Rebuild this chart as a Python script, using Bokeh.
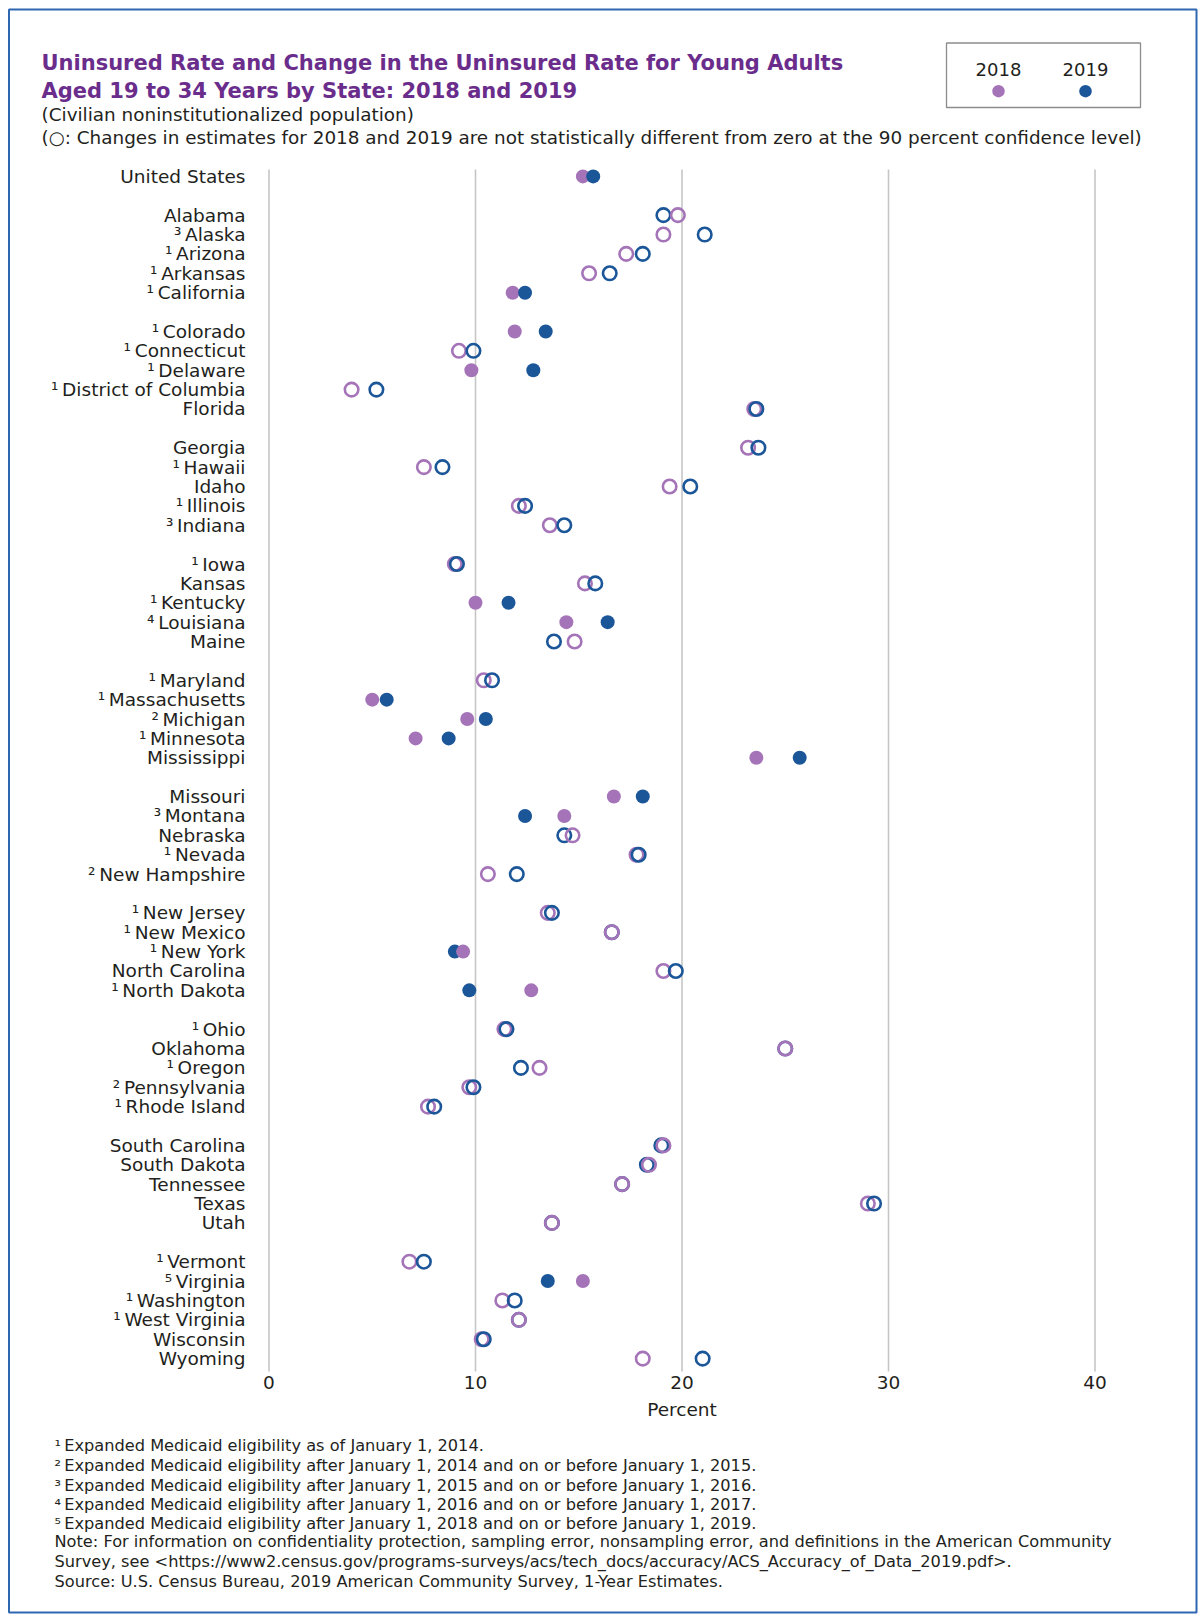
from bokeh.plotting import figure
from bokeh.models import Range1d, Label, BoxAnnotation, Grid
from bokeh.embed import file_html
from bokeh.resources import INLINE
from bokeh.core.properties import value

# ---------------- data ----------------
states = ["United States",
          "Alabama", "Alaska", "Arizona", "Arkansas", "California",
          "Colorado", "Connecticut", "Delaware", "District of Columbia", "Florida",
          "Georgia", "Hawaii", "Idaho", "Illinois", "Indiana",
          "Iowa", "Kansas", "Kentucky", "Louisiana", "Maine",
          "Maryland", "Massachusetts", "Michigan", "Minnesota", "Mississippi",
          "Missouri", "Montana", "Nebraska", "Nevada", "New Hampshire",
          "New Jersey", "New Mexico", "New York", "North Carolina", "North Dakota",
          "Ohio", "Oklahoma", "Oregon", "Pennsylvania", "Rhode Island",
          "South Carolina", "South Dakota", "Tennessee", "Texas", "Utah",
          "Vermont", "Virginia", "Washington", "West Virginia", "Wisconsin", "Wyoming"]

note_numbers = [0,
                0, 3, 1, 1, 1,
                1, 1, 1, 1, 0,
                0, 1, 0, 1, 3,
                1, 0, 1, 4, 0,
                1, 1, 2, 1, 0,
                0, 3, 0, 1, 2,
                1, 1, 1, 0, 1,
                1, 0, 1, 2, 1,
                0, 0, 0, 0, 0,
                1, 5, 1, 1, 0, 0]

rate_2018 = [15.2,
             19.8, 19.1, 17.3, 15.5, 11.8,
             11.9, 9.2, 9.8, 4.0, 23.5,
             23.2, 7.5, 19.4, 12.1, 13.6,
             9.0, 15.3, 10.0, 14.4, 14.8,
             10.4, 5.0, 9.6, 7.1, 23.6,
             16.7, 14.3, 14.7, 17.8, 10.6,
             13.5, 16.6, 9.4, 19.1, 12.7,
             11.4, 25.0, 13.1, 9.7, 7.7,
             19.1, 18.4, 17.1, 29.0, 13.7,
             6.8, 15.2, 11.3, 12.1, 10.3, 18.1]

rate_2019 = [15.7,
             19.1, 21.1, 18.1, 16.5, 12.4,
             13.4, 9.9, 12.8, 5.2, 23.6,
             23.7, 8.4, 20.4, 12.4, 14.3,
             9.1, 15.8, 11.6, 16.4, 13.8,
             10.8, 5.7, 10.5, 8.7, 25.7,
             18.1, 12.4, 14.3, 17.9, 12.0,
             13.7, 16.6, 9.0, 19.7, 9.7,
             11.5, 25.0, 12.2, 9.9, 8.0,
             19.0, 18.3, 17.1, 29.3, 13.7,
             7.5, 13.5, 11.9, 12.1, 10.4, 21.0]

significant = [True,
               False, False, False, False, True,
               True, False, True, False, False,
               False, False, False, False, False,
               False, False, True, True, False,
               False, True, True, True, True,
               True, True, False, False, False,
               False, False, True, False, True,
               False, False, False, False, False,
               False, False, False, False, False,
               False, True, False, False, False, False]

x_ticks = [0, 10, 20, 30, 40]
legend_years = ["2018", "2019"]

footnotes = [
    "\u00b9\u2009Expanded Medicaid eligibility as of January 1, 2014.",
    "\u00b2\u2009Expanded Medicaid eligibility after January 1, 2014 and on or before January 1, 2015.",
    "\u00b3\u2009Expanded Medicaid eligibility after January 1, 2015 and on or before January 1, 2016.",
    "\u2074\u2009Expanded Medicaid eligibility after January 1, 2016 and on or before January 1, 2017.",
    "\u2075\u2009Expanded Medicaid eligibility after January 1, 2018 and on or before January 1, 2019.",
    "Note: For information on confidentiality protection, sampling error, nonsampling error, and definitions in the American Community",
    "Survey, see <https://www2.census.gov/programs-surveys/acs/tech_docs/accuracy/ACS_Accuracy_of_Data_2019.pdf>.",
    "Source: U.S. Census Bureau, 2019 American Community Survey, 1-Year Estimates.",
]

title_lines = ["Uninsured Rate and Change in the Uninsured Rate for Young Adults",
               "Aged 19 to 34 Years by State: 2018 and 2019"]
subtitle_lines = ["(Civilian noninstitutionalized population)",
                  "(\u25cb: Changes in estimates for 2018 and 2019 are not statistically different from zero at the 90 percent confidence level)"]

# ---------------- layout / style ----------------
W, H = 1200, 1620
X0_PX, X_UNIT = 268.5, 20.65        # page x of 0 %, px per percent
Y0_PX, ROW = 175.9, 19.38           # page y of first row, px per row

def dx(px):
    return (px - X0_PX) / X_UNIT

def dy(py):
    return (py - Y0_PX) / ROW

C2018 = "#a574b8"
C2019 = "#1b5699"
TXT = "#231f20"
PURPLE = "#6a2d8c"
FONT = "DejaVu Sans"

sup = {0: "", 1: "\u00b9\u2009", 2: "\u00b2\u2009", 3: "\u00b3\u2009", 4: "\u2074\u2009", 5: "\u2075\u2009"}
labels = [sup[n] + s for n, s in zip(note_numbers, states)]

rows = []
for i in range(len(states)):
    if i == 0:
        rows.append(0)
    else:
        k = i - 1
        g = min(k // 5, 9)
        rows.append(2 + 6 * g + (k - 5 * g))

p = figure(width=W, height=H, title=None,
           x_range=Range1d(dx(0), dx(W)), y_range=Range1d(dy(H), dy(0)),
           x_axis_location=None, y_axis_location=None,
           output_backend="svg", toolbar_location=None, min_border=0)
p.outline_line_color = None
p.background_fill_color = "white"
p.border_fill_color = "white"
for r in list(p.center):
    if isinstance(r, Grid):
        r.visible = False

# outer border
p.add_layout(BoxAnnotation(left=dx(8.5), right=dx(1196), top=dy(9), bottom=dy(1612),
                           fill_color=None, fill_alpha=0, line_color="#2f67b1",
                           line_alpha=1.0, line_width=2))

# grid lines
g_top, g_bot = dy(169), dy(1371)
p.segment(x0=x_ticks, y0=[g_top] * len(x_ticks), x1=x_ticks, y1=[g_bot] * len(x_ticks),
          line_color="#c6c6c6", line_width=1.6)

# x tick labels and axis title
p.text(x=x_ticks, y=[dy(1382)] * len(x_ticks), text=[str(t) for t in x_ticks],
       text_align="center", text_baseline="middle", text_font=value(FONT),
       text_font_size="18.5px", text_color=TXT)
p.text(x=[20], y=[dy(1409)], text=["Percent"], text_align="center", text_baseline="middle",
       text_font=value(FONT), text_font_size="18.5px", text_color=TXT)

# state labels
p.text(x=[dx(245)] * len(labels), y=rows, text=labels, text_align="right",
       text_baseline="middle", text_font=value(FONT), text_font_size="18.5px", text_color=TXT)

# points: for each state the larger value is drawn on top (ties: 2018 on top)
layers = {"low": {"x": [], "y": [], "c": [], "f": []}, "high": {"x": [], "y": [], "c": [], "f": []}}
for a, b, r, s in zip(rate_2018, rate_2019, rows, significant):
    pair = [(a, C2018), (b, C2019)]
    low, high = (pair[1], pair[0]) if a >= b else (pair[0], pair[1])
    for name, (v, c) in (("low", low), ("high", high)):
        layers[name]["x"].append(v)
        layers[name]["y"].append(r)
        layers[name]["c"].append(c)
        layers[name]["f"].append(s)

for name in ("low", "high"):
    L = layers[name]
    ox = [x for x, f in zip(L["x"], L["f"]) if not f]
    oy = [y for y, f in zip(L["y"], L["f"]) if not f]
    oc = [c for c, f in zip(L["c"], L["f"]) if not f]
    p.scatter(x=ox, y=oy, marker="circle", size=13.5, fill_color=None,
              line_color=oc, line_width=2.6)
    fx = [x for x, f in zip(L["x"], L["f"]) if f]
    fy = [y for y, f in zip(L["y"], L["f"]) if f]
    fc = [c for c, f in zip(L["c"], L["f"]) if f]
    p.scatter(x=fx, y=fy, marker="circle", size=14, fill_color=fc, line_color=None)

# legend box
p.add_layout(BoxAnnotation(left=dx(946), right=dx(1140), top=dy(42.5), bottom=dy(107),
                           fill_color=None, fill_alpha=0, line_color="#8c8c8c",
                           line_alpha=1.0, line_width=1.3))
leg_x = [dx(998), dx(1085)]
p.text(x=leg_x, y=[dy(69.3)] * 2, text=legend_years, text_align="center",
       text_baseline="middle", text_font=value(FONT), text_font_size="18px", text_color=TXT)
p.scatter(x=leg_x, y=[dy(90.7)] * 2, marker="circle", size=12.5,
          fill_color=[C2018, C2019], line_color=None)

# titles
for i, t in enumerate(title_lines):
    p.add_layout(Label(x=dx(41), y=dy(62 + 28 * i), text=t, text_align="left",
                       text_baseline="middle", text_font=FONT, text_font_style="bold",
                       text_font_size="21px", text_color=PURPLE))
for i, t in enumerate(subtitle_lines):
    p.add_layout(Label(x=dx(41), y=dy(113.8 + 22.8 * i), text=t, text_align="left",
                       text_baseline="middle", text_font=FONT,
                       text_font_size="18.4px", text_color=TXT))

# footnotes
foot_y = [1445, 1465, 1484.5, 1504, 1523, 1541, 1561, 1581]
for fy, t in zip(foot_y, footnotes):
    p.add_layout(Label(x=dx(54), y=dy(fy), text=t, text_align="left",
                       text_baseline="middle", text_font=FONT,
                       text_font_size="16.2px", text_color=TXT))

open("out.html", "w").write(file_html(p, INLINE))
